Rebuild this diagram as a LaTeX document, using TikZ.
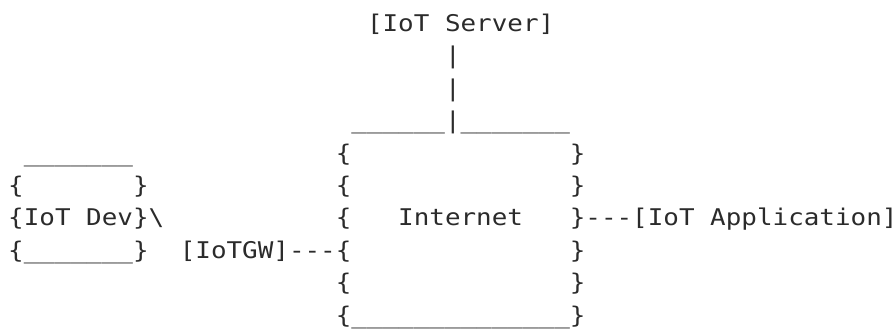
\documentclass[tikz,border=0pt]{standalone}
\usepackage{fontspec}
\newfontfamily\asciifont[FakeStretch=1.127]{DejaVu Sans Mono}
\definecolor{asciigray}{HTML}{2B2B2B}
\begin{document}
\begin{tikzpicture}[x=1pt,y=1pt,
		ascii/.style={anchor=base west,inner sep=0pt,outer sep=0pt,text=asciigray,
			font=\asciifont\fontsize{23}{33}\selectfont}]
	\useasboundingbox (0,0) rectangle (896,-329);
	%Server on top and the line down to the cloud
	\coordinate (srv) at (367.0,-31.5);
	\coordinate (pipe1) at (445.0,-63.9);
	\coordinate (pipe2) at (445.0,-96.3);
	\coordinate (cloudtop) at (351.4,-128.7);
	\node [ascii] (server) at (srv) {[IoT Server]};
	\node [ascii] (lineA) at (pipe1) {|};
	\node [ascii] (lineB) at (pipe2) {|};
	\node [ascii] (nettop) at (cloudtop) {\_\_\_\_\_\_|\_\_\_\_\_\_\_};
	%Left and right side of the cloud
	\foreach \r/\y in {5/-161.1,6/-193.5,7/-225.9,9/-290.7} {
		\node [ascii] (netL\r) at (335.8,\y) {\{};
	}
	\foreach \r/\y in {5/-161.1,6/-193.5,8/-258.3,9/-290.7} {
		\node [ascii] (netR\r) at (569.8,\y) {\}};
	}
	\node [ascii] (netbottom) at (335.8,-323.1) {\{\_\_\_\_\_\_\_\_\_\_\_\_\_\_\}};
	\node [ascii] (internet) at (398.2,-225.9) {Internet};
	%The device box
	\node [ascii] (devtop) at (23.8,-161.1) {\_\_\_\_\_\_\_};
	\node [ascii] (devL) at (8.2,-193.5) {\{};
	\node [ascii] (devR) at (133.0,-193.5) {\}};
	\node [ascii] (dev) at (8.2,-225.9) {\{IoT Dev\}\textbackslash};
	\node [ascii] (devbottom) at (8.2,-258.3) {\{\_\_\_\_\_\_\_\}};
	%Gateway and application
	\node [ascii] (gw) at (179.8,-258.3) {[IoTGW]---\{};
	\node [ascii] (app) at (569.8,-225.9) {\}---[IoT Application]};
\end{tikzpicture}
\end{document}
